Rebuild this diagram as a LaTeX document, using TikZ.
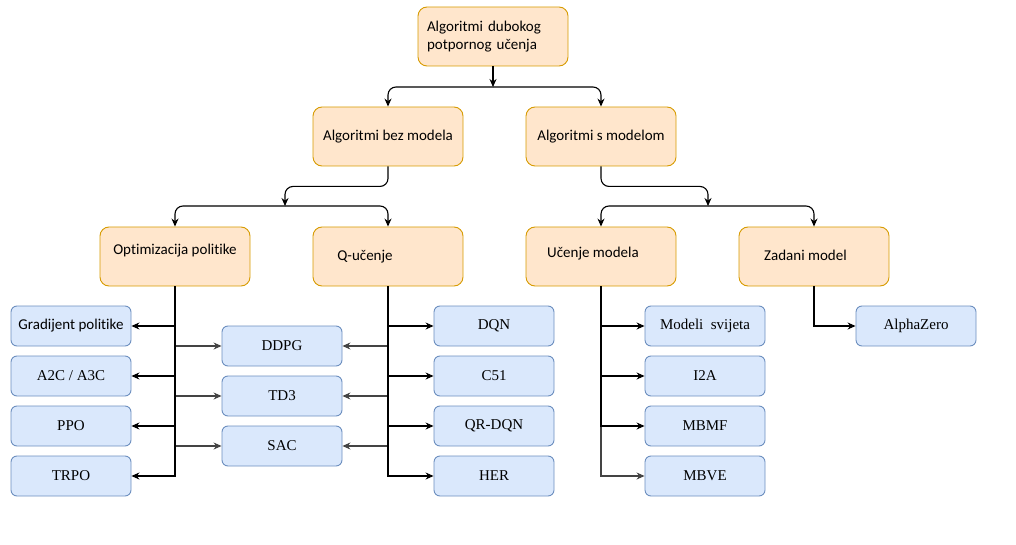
\documentclass[tikz,border=0pt]{standalone}
\usepackage{fontspec}
\setmainfont{Liberation Serif}
\newfontfamily\carlito[Ligatures=NoCommon]{Carlito}
\newfontfamily\timesfont{Liberation Serif}
\usetikzlibrary{arrows.meta}

\definecolor{grpfill}{HTML}{FFE6CC}
\definecolor{grpline}{HTML}{D79B00}
\definecolor{algfill}{HTML}{DAE8FC}
\definecolor{algline}{HTML}{6C8EBF}
\definecolor{sidegrey}{HTML}{444444}

\begin{document}
\begin{tikzpicture}[
			x = 1pt, y = -1pt,
			grp/.style = {draw=grpline, fill=grpfill, rounded corners=9pt, line width=0.9pt,
				minimum width=150pt, minimum height=59pt, align=left,
				font=\carlito\fontsize{15}{18}\selectfont},
			alg/.style = {draw=algline, fill=algfill, rounded corners=6pt, line width=0.9pt,
				minimum width=120pt, minimum height=40pt,
				font=\timesfont\fontsize{15}{18}\selectfont},
			link/.style = {line width=1.1pt, -{Stealth[length=8pt,width=7pt]}},
			sidelink/.style = {link, sidegrey},
			]

			\def\colA{71}
			\def\colB{282}
			\def\colC{494}
			\def\colD{705}

			\useasboundingbox (0,0) rectangle (1016,545);

			% kategorije
			\node[grp, text width=132pt] (root) at (493,36.5) {Algoritmi dubokog\\potpornog učenja};
			\node[grp] (free) at (388,136.5) {Algoritmi bez modela};
			\node[grp] (based) at (601,136.5) {Algoritmi s modelom};
			\node[grp] (polopt) at (175,256.5) {\raisebox{15pt}{Optimizacija politike}};
			\node[grp] (qlearn) at (388,256.5) {Q-učenje\hspace*{46pt}};
			\node[grp] (learnm) at (601,256.5) {\raisebox{8pt}{Učenje modela}\hspace*{16pt}};
			\node[grp] (givenm) at (814,256.5) {\raisebox{3pt}{Zadani model}\hspace*{17pt}};

			% algoritmi
			\node[alg, font=\carlito\fontsize{15}{18}\selectfont] (pg) at (\colA,326) {Gradijent politike};
			\node[alg] (a2c) at (\colA,376) {A2C / A3C};
			\node[alg] (ppo) at (\colA,426) {PPO};
			\node[alg] (trpo) at (\colA,476) {TRPO};

			\node[alg] (ddpg) at (\colB,346) {DDPG};
			\node[alg] (td3) at (\colB,396) {TD3};
			\node[alg] (sac) at (\colB,446) {SAC};

			\node[alg] (dqn) at (\colC,326) {DQN};
			\node[alg] (c51) at (\colC,376) {C51};
			\node[alg] (qrdqn) at (\colC,426) {QR-DQN};
			\node[alg] (her) at (\colC,476) {HER};

			\node[alg] (world) at (\colD,326) {Modeli \ svijeta};
			\node[alg] (i2a) at (\colD,376) {I2A};
			\node[alg] (mbmf) at (\colD,426) {MBMF};
			\node[alg] (mbve) at (\colD,476) {MBVE};

			\node[alg] (alphazero) at (916,326) {AlphaZero};

			% razdjelnici
			\coordinate (split1) at (493,87);
			\coordinate (split2) at (285,206);
			\coordinate (split3) at (708,206);

			\draw[link] (root) -- (split1);
			\draw[link, rounded corners=8pt] (split1) -| (free);
			\draw[link, rounded corners=8pt] (split1) -| (based);

			\draw[link, rounded corners=8pt] (free.south) -- ++(0,20) -| (split2);
			\draw[link, rounded corners=8pt] (split2) -| (polopt);
			\draw[link, rounded corners=8pt] (split2) -| (qlearn);

			\draw[link, rounded corners=8pt] (based.south) -- ++(0,20) -| (split3);
			\draw[link, rounded corners=8pt] (split3) -| (learnm);
			\draw[link, rounded corners=8pt] (split3) -| (givenm);

			% grane
			\draw[sidelink] (polopt) |- (ddpg);
			\draw[sidelink] (polopt) |- (td3);
			\draw[sidelink] (polopt) |- (sac);
			\draw[sidelink] (qlearn) |- (ddpg);
			\draw[sidelink] (qlearn) |- (td3);
			\draw[sidelink] (qlearn) |- (sac);
			\draw[sidelink] (learnm) |- (mbve);

			\draw[link] (polopt) |- (pg);
			\draw[link] (polopt) |- (a2c);
			\draw[link] (polopt) |- (ppo);
			\draw[link] (polopt) |- (trpo);

			\draw[link] (qlearn) |- (dqn);
			\draw[link] (qlearn) |- (c51);
			\draw[link] (qlearn) |- (qrdqn);
			\draw[link] (qlearn) |- (her);

			\draw[link] (learnm) |- (world);
			\draw[link] (learnm) |- (i2a);
			\draw[link] (learnm) |- (mbmf);

			\draw[link] (givenm) |- (alphazero);

		\end{tikzpicture}
\end{document}
